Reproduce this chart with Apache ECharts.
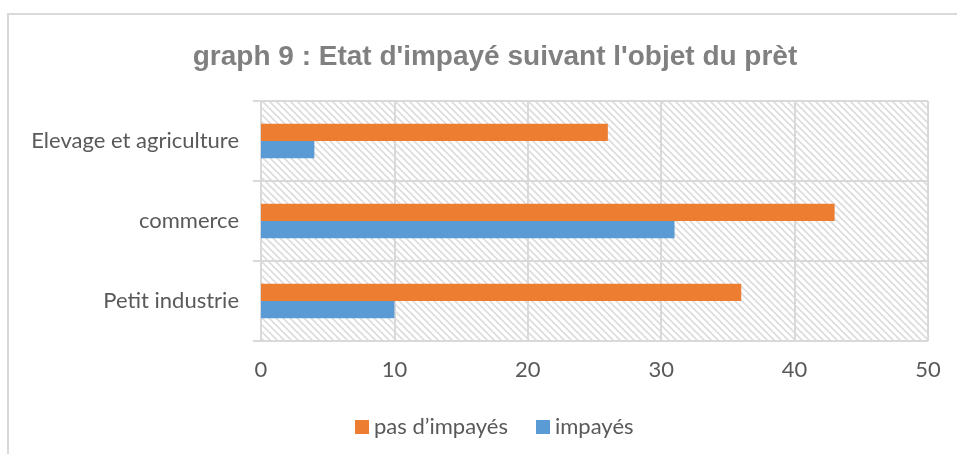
<!DOCTYPE html>
<html><head><meta charset="utf-8">
<script src="https://cdn.jsdelivr.net/npm/echarts@6/dist/echarts.min.js"></script>
<style>html,body{margin:0;padding:0;background:#fff}#c{width:957px;height:454px}</style>
</head><body><div id="c"></div>
<script>
const categories = ['Petit industrie', 'commerce', 'Elevage et agriculture'];
const impayes = [10, 31, 4];
const pasImpayes = [36, 43, 26];
const xTicks = [0, 10, 20, 30, 40, 50];

const pc = document.createElement('canvas');
pc.width = 7; pc.height = 7;
const g = pc.getContext('2d');
g.fillStyle = '#ffffff'; g.fillRect(0,0,7,7);
g.strokeStyle = '#dcdcdc'; g.lineWidth = 1.6;
g.beginPath();
g.moveTo(-1,-1); g.lineTo(8,8);
g.moveTo(-1,6); g.lineTo(1,8);
g.moveTo(6,-1); g.lineTo(8,1);
g.stroke();

const font = 'Lato, "Open Sans", sans-serif';
const chart = echarts.init(document.getElementById('c'), null, {renderer: 'canvas'});
chart.setOption({
  animation: false,
  backgroundColor: '#fff',
  title: {
    text: "graph 9 : Etat d'impayé suivant l'objet du prèt",
    left: 490, top: 38, textAlign: 'center',
    textStyle: {fontFamily: '"Liberation Sans", Arial, sans-serif', fontWeight: 'bold', fontSize: 28, color: '#808080'}
  },
  legend: {
    data: ['pas d’impayés', 'impayés'],
    left: 350, top: 411,
    itemWidth: 14, itemHeight: 14, itemGap: 28,
    icon: 'rect',
    textStyle: {fontFamily: font, fontSize: 22, color: '#595959'}
  },
  grid: {
    left: 261, right: 29, top: 101, bottom: 113,
    show: true, borderWidth: 0,
    backgroundColor: {image: pc, repeat: 'repeat'}
  },
  xAxis: {
    type: 'value', min: 0, max: 50, interval: 10,
    axisLine: {show: false},
    axisTick: {show: false},
    splitLine: {show: true, lineStyle: {color: '#d9d9d9', width: 2}},
    axisLabel: {fontFamily: font, fontSize: 22, color: '#595959', margin: 18,
      formatter: v => xTicks.includes(v) ? String(v) : ''}
  },
  yAxis: {
    type: 'category', data: categories,
    axisLine: {show: true, lineStyle: {color: '#d9d9d9', width: 2}},
    axisTick: {show: true, length: 8, lineStyle: {color: '#d9d9d9', width: 2}},
    splitLine: {show: true, lineStyle: {color: '#d9d9d9', width: 2}},
    axisLabel: {fontFamily: font, fontSize: 22, color: '#595959', margin: 22}
  },
  series: [
    {name: 'pas d’impayés', type: 'bar', data: pasImpayes, barGap: '0%', barCategoryGap: '57%',
      itemStyle: {color: '#ED7D31'}},
    {name: 'impayés', type: 'bar', data: impayes, barGap: '0%', barCategoryGap: '57%',
      itemStyle: {color: '#5B9BD5'}}
  ],
  graphic: [{
    type: 'rect', silent: true, z: -1,
    shape: {x: 8, y: 14, width: 1100, height: 600},
    style: {fill: 'none', stroke: '#d9d9d9', lineWidth: 2}
  }]
});
</script></body></html>
